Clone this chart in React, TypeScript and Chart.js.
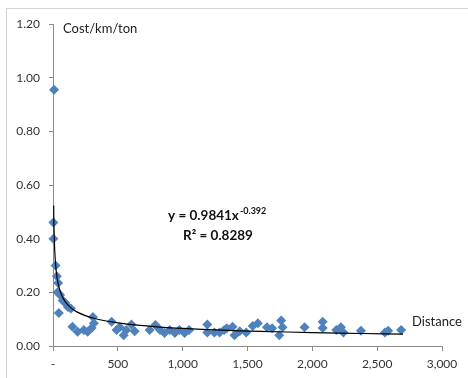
import React, { useEffect, useRef } from "react";
import { Chart, registerables } from "chart.js";

Chart.register(...registerables);

const distance = [
  8, 3, 3, 20, 30, 40, 35, 55, 75, 95, 115, 138, 45, 150, 190, 238, 267, 298, 308, 315, 452,
  490, 515, 545, 565, 605, 630, 745, 790, 825, 860, 900, 940, 975, 1015, 1050, 1190, 1190,
  1245, 1285, 1320, 1340, 1385, 1400, 1440, 1490, 1540, 1580, 1650, 1690, 1760, 1770, 1745,
  1940, 2080, 2080, 2185, 2220, 2240, 2375, 2560, 2585, 2685,
];
const cost = [
  0.955, 0.46, 0.4, 0.3, 0.26, 0.235, 0.2, 0.19, 0.17, 0.16, 0.145, 0.14, 0.123, 0.072, 0.053,
  0.06, 0.053, 0.067, 0.108, 0.085, 0.09,
  0.06, 0.07, 0.04, 0.06, 0.08, 0.055, 0.06, 0.078, 0.06, 0.048, 0.06, 0.048, 0.06, 0.048,
  0.06, 0.08, 0.05, 0.05, 0.05, 0.06, 0.066, 0.072, 0.04, 0.055, 0.05, 0.075, 0.085, 0.07,
  0.066, 0.095, 0.07, 0.04, 0.07, 0.09, 0.067, 0.06, 0.07, 0.05, 0.057, 0.05, 0.057, 0.06,
];

// Power trendline shown on the chart: y = 0.9841 x^-0.392
const trendCoef = 0.9841;
const trendExp = -0.392;
const trendX = [5, 6, 8, 10, 13, 16, 20, 25, 30, 40, 50, 65, 80, 100, 130, 160, 200, 250, 300, 400, 500, 650, 800, 1000, 1300, 1600, 2000, 2400, 2700];

const xTicks = [0, 500, 1000, 1500, 2000, 2500, 3000];
const yTicks = [0, 0.2, 0.4, 0.6, 0.8, 1.0, 1.2];

const FONT = "Lato, 'Open Sans', sans-serif";

const labelsPlugin = {
  id: "labels",
  afterDraw(chart: any) {
    const ctx = chart.ctx;
    ctx.save();
    ctx.fillStyle = "#222";
    ctx.textBaseline = "middle";
    ctx.font = `13px ${FONT}`;
    ctx.textAlign = "left";
    ctx.fillText("Cost/km/ton", 63, 29);
    ctx.fillText("Distance", 412, 322);
    ctx.font = `bold 13.5px ${FONT}`;
    ctx.fillStyle = "#111";
    const main = "y = 0.9841x";
    ctx.fillText(main, 168, 216);
    const w = ctx.measureText(main).width;
    ctx.font = `bold 9px ${FONT}`;
    ctx.fillText("-0.392", 168 + w + 1, 211);
    ctx.font = `bold 13.5px ${FONT}`;
    ctx.fillText("R² = 0.8289", 183, 236);
    ctx.restore();
  },
};

export default function App() {
  const ref = useRef<HTMLCanvasElement | null>(null);
  useEffect(() => {
    if (!ref.current) return;
    const pts = distance.map((d, i) => ({ x: d, y: cost[i] }));
    const trend = trendX.map((x) => ({ x, y: trendCoef * Math.pow(x, trendExp) }));
    const axisColor = "#8c8c8c";
    const chart = new Chart(ref.current, {
      type: "scatter",
      data: {
        datasets: [
          {
            data: trend,
            showLine: true,
            borderColor: "#000",
            borderWidth: 1.2,
            pointRadius: 0,
            tension: 0.3,
            order: 0,
          } as any,
          {
            data: pts,
            backgroundColor: "#4f81bd",
            borderColor: "#4f81bd",
            pointStyle: "rectRot",
            pointRadius: 5,
            borderWidth: 0,
            clip: false,
            order: 1,
          } as any,
        ],
      },
      options: {
        animation: false,
        responsive: false,
        devicePixelRatio: 1,
        layout: { padding: { top: 24, right: 26, left: 0, bottom: 0 } },
        plugins: { legend: { display: false }, tooltip: { enabled: false } },
        scales: {
          x: {
            type: "linear",
            min: 0,
            max: 3000,
            afterBuildTicks: (s: any) => {
              s.ticks = xTicks.map((v) => ({ value: v }));
            },
            afterFit: (s: any) => {
              s.height = 32;
            },
            ticks: {
              padding: 6,
              color: "#333",
              font: { family: FONT, size: 12 },
              maxRotation: 0,
              callback: (v: any) => (Number(v) === 0 ? "-" : Number(v).toLocaleString("en-US")),
            },
            grid: { drawOnChartArea: false, drawTicks: true, tickLength: 5, color: axisColor },
            border: { color: axisColor, width: 1 },
          },
          y: {
            min: 0,
            max: 1.2,
            afterBuildTicks: (s: any) => {
              s.ticks = yTicks.map((v) => ({ value: v }));
            },
            afterFit: (s: any) => {
              s.width = 53;
            },
            ticks: {
              padding: 9,
              color: "#333",
              font: { family: FONT, size: 12 },
              callback: (v: any) => Number(v).toFixed(2),
            },
            grid: { drawOnChartArea: false, drawTicks: true, tickLength: 4, color: axisColor },
            border: { color: axisColor, width: 1 },
          },
        },
      },
      plugins: [labelsPlugin],
    });
    return () => chart.destroy();
  }, []);
  return (
    <>
      <div
        style={{
          position: "fixed",
          left: 6,
          top: 8,
          width: 500,
          height: 400,
          border: "1px solid #d4d4d4",
          background: "#fff",
        }}
      />
      <canvas
        ref={ref}
        width={468}
        height={378}
        style={{ position: "fixed", left: 0, top: 0, width: 468, height: 378 }}
      />
    </>
  );
}
